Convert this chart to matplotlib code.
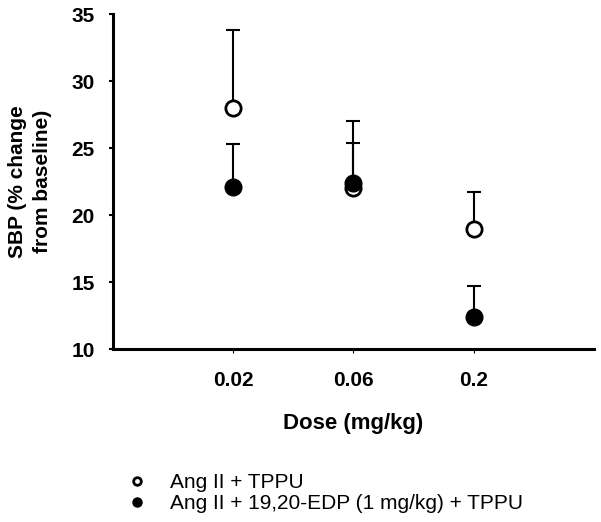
import numpy as np
import matplotlib.pyplot as plt

plt.rcParams['font.family'] = ['Liberation Sans', 'DejaVu Sans']

doses = ["0.02", "0.06", "0.2"]
tppu_mean = [28.0, 22.0, 19.0]
tppu_err = [5.8, 5.0, 2.7]
edp_mean = [22.1, 22.4, 12.4]
edp_err = [3.2, 3.0, 2.3]

x = np.arange(1, len(doses) + 1)

fig = plt.figure(figsize=(6.01, 5.22), dpi=100)
ax = fig.add_axes([0.188, 0.331, 0.8, 0.642])

# upper-only error bars, drawn under the markers
ax.errorbar(x, tppu_mean, yerr=[np.zeros(3), tppu_err], fmt='none',
            ecolor='black', elinewidth=1.5, capsize=5, capthick=1.5, zorder=1)
ax.errorbar(x, edp_mean, yerr=[np.zeros(3), edp_err], fmt='none',
            ecolor='black', elinewidth=1.5, capsize=5, capthick=1.5, zorder=1)

ax.plot(x, tppu_mean, 'o', ms=11, mfc='white', mec='black', mew=2,
        linestyle='none', label="Ang II + TPPU", zorder=3)
ax.plot(x, edp_mean, 'o', ms=11, mfc='black', mec='black', mew=2,
        linestyle='none', label="Ang II + 19,20-EDP (1 mg/kg) + TPPU", zorder=4)

ax.set_xlim(0, 4)
ax.set_ylim(10, 35)
ax.set_yticks([10, 15, 20, 25, 30, 35])
ax.set_xticks(x)
ax.set_xticklabels(doses)

for s in ['top', 'right']:
    ax.spines[s].set_visible(False)
for s in ['left', 'bottom']:
    ax.spines[s].set_linewidth(2.2)

ax.tick_params(axis='y', direction='out', length=3, width=1.5, labelsize=15, pad=10)
ax.tick_params(axis='x', direction='out', length=3, width=0.8, labelsize=15, pad=13)
for lbl in ax.get_xticklabels() + ax.get_yticklabels():
    lbl.set_fontweight('bold')

ax.set_xlabel("Dose (mg/kg)", fontsize=16, fontweight='bold', labelpad=16)
ax.set_ylabel("SBP (% change\nfrom baseline)", fontsize=15, fontweight='bold',
              labelpad=14, linespacing=1.4)

h, l = ax.get_legend_handles_labels()
leg = fig.legend(h, l, loc='upper left', bbox_to_anchor=(0.197, 0.114), frameon=False,
                 fontsize=15, markerscale=0.5, handlelength=0.8, handletextpad=1.2,
                 labelspacing=0.12, borderpad=0)

fig.savefig("out.png", dpi=100)
